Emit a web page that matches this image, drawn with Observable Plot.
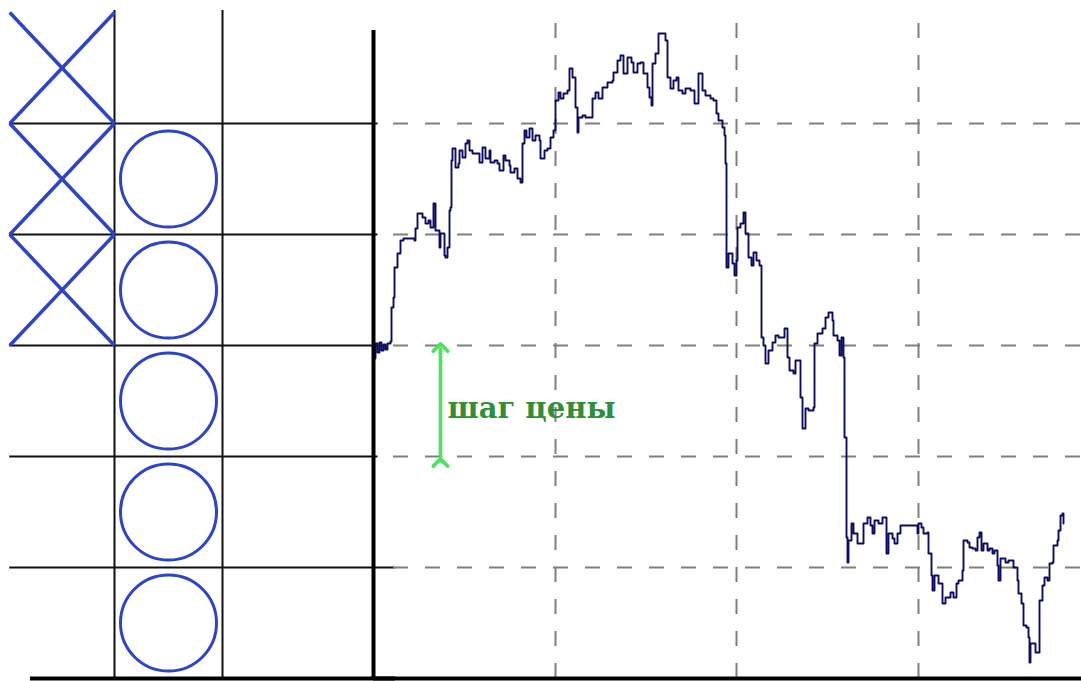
<!DOCTYPE html>
<html><head><meta charset="utf-8">
<script src="https://cdn.jsdelivr.net/npm/d3@7"></script>
<script src="https://cdn.jsdelivr.net/npm/@observablehq/plot@0.6"></script>
<style>
body{margin:0;background:#fff;}
#wrap{position:relative;width:1081px;height:681px;overflow:hidden;}
#wrap svg{position:absolute;top:0;}
</style>
</head><body><div id="wrap"></div>
<script>
// ---- data ----
const boxSize = 111;                 // price step (points)
const xBoxes = [3, 4, 5];            // rows of X boxes, column 0
const oBoxes = [4, 3, 2, 1, 0];      // rows of O boxes, column 1
const levels = [1, 2, 3, 4, 5];      // price-step grid levels (in boxes)
const timeGrid = [182, 363, 545];    // vertical time grid (bars)
const bars = [1,2,4,6,8,10,12,14,17,18,20,21,24,27,30,41,42,44,49,52,55,57,60,62,66,67,71,72,74,76,77,78,79,82,85,86,89,92,94,96,99,102,106,109,112,116,117,121,124,126,130,132,136,137,141,144,147,149,151,153,156,159,162,166,167,171,174,177,180,182,185,187,190,194,196,199,202,204,205,209,212,217,219,222,225,229,234,239,240,244,247,250,254,258,260,264,267,270,274,276,278,279,282,285,290,292,294,297,300,303,305,309,312,317,321,325,329,332,337,340,343,345,349,351,352,353,355,359,361,363,364,367,370,372,375,378,380,383,386,388,390,392,395,399,402,405,409,411,414,416,420,422,425,427,429,432,435,440,441,444,449,452,455,459,460,464,466,468,470,471,473,474,475,478,480,484,489,490,494,497,499,501,505,509,511,513,515,519,521,524,527,542,544,545,548,550,554,555,558,559,561,565,569,572,577,580,583,585,589,590,594,596,599,602,604,606,608,610,614,616,619,621,624,625,627,630,632,635,638,640,644,645,648,650,653,655,656,657,659,662,665,666,669,671,674,676,679,680,684,685,687,689,690];
const prices = [320,335,326,336,328,334,329,335,337,371,381,411,425,438,440,438,450,465,461,455,458,451,475,448,431,445,423,421,431,468,471,518,530,511,515,528,521,535,538,528,525,525,516,531,520,528,516,518,515,508,523,518,513,506,510,500,496,535,548,541,550,538,543,538,520,528,530,541,548,578,586,580,585,588,610,601,571,546,561,563,561,561,580,586,580,591,596,598,606,618,623,605,621,616,606,615,616,605,591,581,573,615,625,645,645,638,601,590,598,601,588,585,590,588,575,605,588,583,580,578,565,558,551,543,515,411,425,415,403,418,451,455,466,445,421,413,426,418,413,341,333,315,328,336,343,341,341,350,321,308,305,318,318,281,250,270,268,271,335,345,350,361,366,358,343,338,323,341,321,241,141,116,138,155,145,135,135,155,161,153,145,158,155,161,161,125,145,140,135,145,153,153,145,155,151,145,146,125,103,88,103,95,75,81,86,81,95,98,108,138,136,131,130,128,141,146,128,135,128,130,125,128,113,98,120,120,116,118,118,111,98,85,75,53,51,41,16,35,35,26,26,78,93,101,98,115,116,133,138,148,163,165,155];
const label = "шаг цены";
const stepArrow = {bar: 67, from: 216, to: 331};
const labelPos = {bar: 74, price: 270};

// ---- layout / style ----
const H = 681;
const yDomain = [0, 668];
const blue = "#2d44c6";
const gridGrey = "#7f7f7f";
const series = bars.map((b, i) => ({bar: b, price: prices[i]}));

const left = Plot.plot({
  width: 400, height: H, marginTop: 10, marginBottom: 3, marginLeft: 0, marginRight: 0,
  x: {domain: [-6/108, 394/108], axis: null},
  y: {domain: yDomain, axis: null},
  style: {background: "transparent", overflow: "visible"},
  marks: [
    Plot.ruleY(levels.filter(l => l > 1), {y: d => d * boxSize, x1: 0.03, x2: 3.44, stroke: "#111", strokeWidth: 2}),
    Plot.ruleY([1], {y: d => d * boxSize, x1: 0.03, x2: 3.6, stroke: "#111", strokeWidth: 2}),
    Plot.ruleX([1, 2], {y1: 0, y2: 668, stroke: "#111", strokeWidth: 2}),
    Plot.link(xBoxes, {x1: 0.03, y1: r => r * boxSize, x2: 1, y2: r => (r + 1) * boxSize, stroke: blue, strokeWidth: 3.5}),
    Plot.link(xBoxes, {x1: 0.03, y1: r => (r + 1) * boxSize, x2: 1, y2: r => r * boxSize, stroke: blue, strokeWidth: 3.5}),
    Plot.dot(oBoxes, {x: 1.5, y: r => (r + 0.5) * boxSize, r: 48, stroke: blue, strokeWidth: 3, fill: "none"}),
    Plot.ruleY([0], {x1: 24/108, x2: 3.6, stroke: "#000", strokeWidth: 4})
  ]
});
left.style.left = "0px";

const right = Plot.plot({
  width: 721, height: H, marginTop: 10, marginBottom: 3, marginLeft: 13, marginRight: 0,
  x: {domain: [0, 708], axis: null},
  y: {domain: yDomain, axis: null},
  style: {background: "transparent", overflow: "visible"},
  marks: [
    Plot.ruleX(timeGrid, {y1: 0, y2: 668, stroke: gridGrey, strokeWidth: 2, strokeDasharray: "15,17"}),
    Plot.ruleY(levels, {y: d => d * boxSize, x1: 20, x2: 708, stroke: gridGrey, strokeWidth: 2, strokeDasharray: "15,17"}),
    Plot.line(series, {x: "bar", y: "price", stroke: "#0b0b63", strokeWidth: 1.9, curve: "step-after"}),
    Plot.ruleX([0], {y1: 0, y2: 648, stroke: "#000", strokeWidth: 4}),
    Plot.ruleY([0], {x1: 0, x2: 708, stroke: "#000", strokeWidth: 4}),
    Plot.link([stepArrow], {x1: "bar", x2: "bar", y1: "from", y2: "to", stroke: "#4fe05f", strokeWidth: 3.6, markerStart: "arrow", markerEnd: "arrow"}),
    Plot.text([label], {x: labelPos.bar, y: labelPos.price, text: d => d, textAnchor: "start", lineAnchor: "middle",
      fill: "#2d8f3a", fontSize: 29, fontWeight: "bold", fontFamily: "DejaVu Serif"})
  ]
});
right.style.left = "360px";

const wrap = document.getElementById("wrap");
wrap.appendChild(left);
wrap.appendChild(right);
</script>
</body></html>
